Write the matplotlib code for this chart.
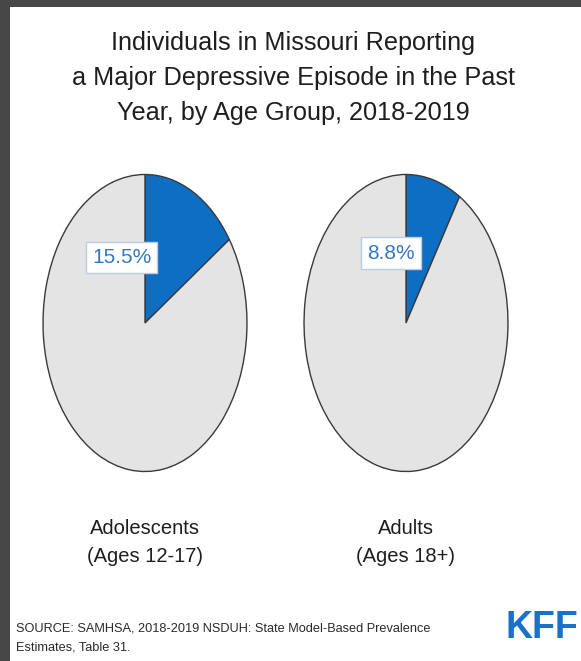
import matplotlib
matplotlib.use("Agg")
import matplotlib.pyplot as plt
from matplotlib.patches import Rectangle

# data
groups = ["Adolescents\n(Ages 12-17)", "Adults\n(Ages 18+)"]
pct_mde = [15.5, 8.8]

title = ("Individuals in Missouri Reporting\n"
         "a Major Depressive Episode in the Past\n"
         "Year, by Age Group, 2018-2019")
source = ("SOURCE: SAMHSA, 2018-2019 NSDUH: State Model-Based Prevalence\n"
          "Estimates, Table 31.")

BLUE = "#0e6ec4"
GRAY = "#e4e4e4"
FONT = ["Liberation Sans", "DejaVu Sans"]

W, H = 581, 661
fig = plt.figure(figsize=(W / 100, H / 100), dpi=100, facecolor="#474747")

# white slide area (dark frame on left and top)
fig.patches.append(Rectangle((10 / W, 0), 1 - 10 / W, 1 - 7 / H,
                             transform=fig.transFigure, facecolor="white",
                             edgecolor="none", zorder=-5))

fig.text(293 / W, 1 - 78 / H, title, ha="center", va="center",
         fontsize=18.2, family=FONT, color="#1e1e1e", linespacing=1.58)

# pie geometry in pixels: centre x, centre y, half width, half height
centres_x = [145, 406]
cy, rx, ry = 323, 103, 150
label_pos = [(-0.23, 0.44), (-0.15, 0.47)]

for i, (grp, val) in enumerate(zip(groups, pct_mde)):
    cx = centres_x[i]
    ax = fig.add_axes([(cx - rx) / W, 1 - (cy + ry) / H, 2 * rx / W, 2 * ry / H])
    ax.pie([val, 100 - val], colors=[BLUE, GRAY], startangle=90,
           counterclock=False, radius=1,
           wedgeprops=dict(edgecolor="#3a3a3a", linewidth=1.0))
    ax.set_aspect("auto")
    ax.set_xlim(-1.01, 1.01)
    ax.set_ylim(-1.01, 1.01)
    ax.axis("off")
    lx, ly = label_pos[i]
    ax.text(lx, ly, f"{val}%", ha="center", va="center", fontsize=15,
            family=FONT, color="#3579bd",
            bbox=dict(boxstyle="square,pad=0.3", facecolor="white",
                      edgecolor="#b9cde2", linewidth=1))
    fig.text(cx / W, 1 - 542 / H, grp, ha="center", va="center",
             fontsize=14.5, family=FONT, color="#1e1e1e", linespacing=1.6)

fig.text(16 / W, 1 - 638 / H, source, ha="left", va="center",
         fontsize=9.2, family=FONT, color="#2a2a2a", linespacing=1.75)

fig.text(578 / W, 1 - 628 / H, "KFF", ha="right", va="center",
         fontsize=27, family=FONT, weight="bold", color="#1a72c8")

fig.savefig("out.png", dpi=100, facecolor=fig.get_facecolor())
